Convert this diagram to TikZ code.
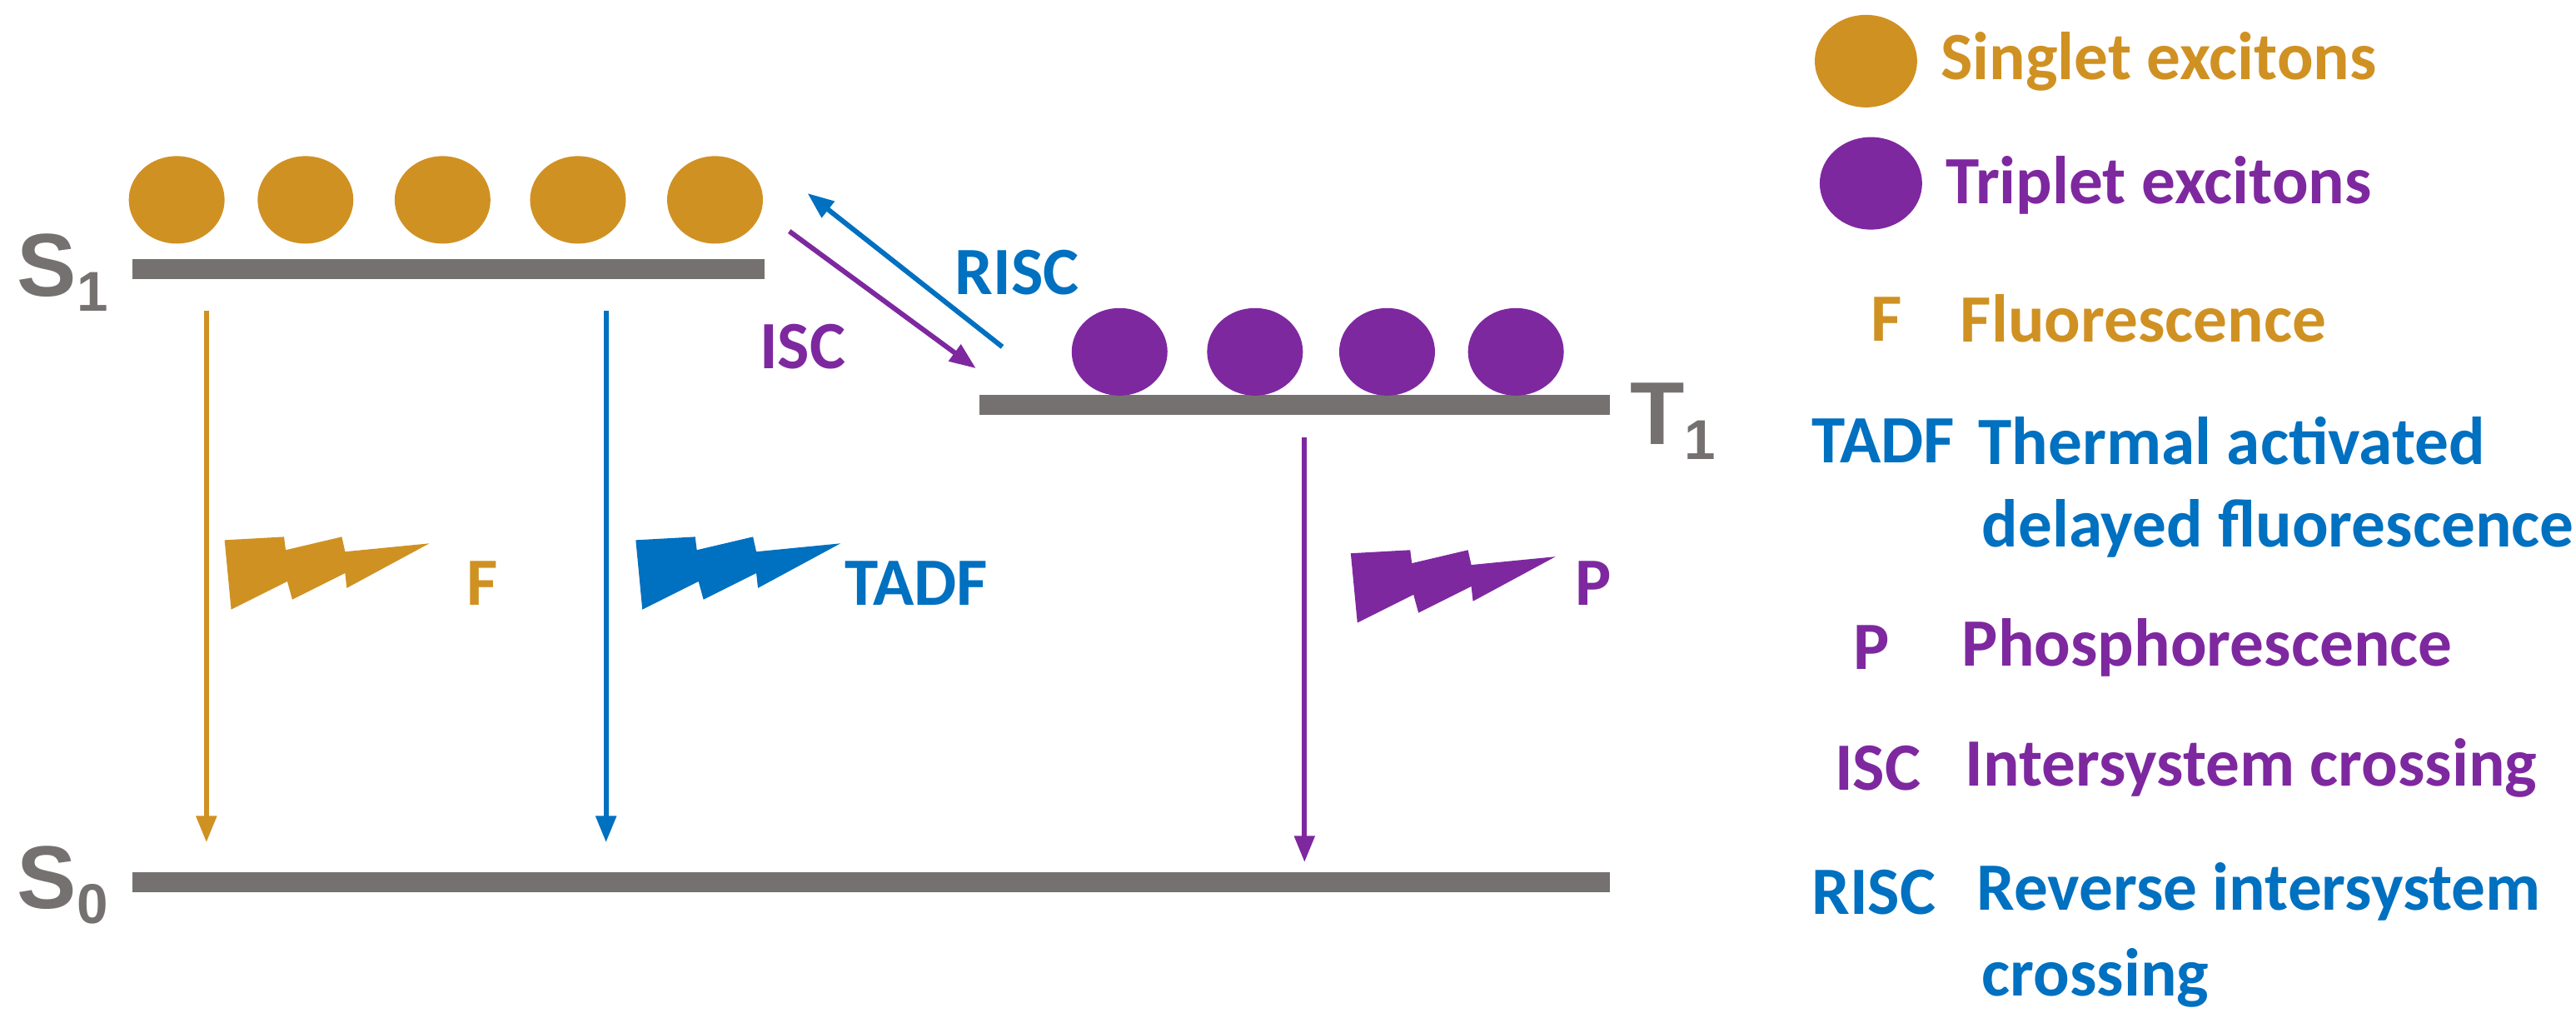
\documentclass[tikz,border=0pt]{standalone}
\usepackage{fontspec}
\setmainfont{Carlito}
\newfontfamily\lab{Liberation Sans}
\usetikzlibrary{arrows.meta,shapes.geometric}
\definecolor{cor}{RGB}{208,145,35}
\definecolor{cbl}{RGB}{0,112,192}
\definecolor{cpu}{RGB}{126,40,160}
\definecolor{cgr}{RGB}{118,113,113}
\newcommand{\lvlname}[2]{#1\raisebox{-9pt}{\fontsize{34}{36}\selectfont #2}}
\begin{document}
\begin{tikzpicture}[x=1pt,y=-1pt,
  lvl/.style={line width=12pt,draw=cgr},
  exc/.style={ellipse,minimum width=58pt,minimum height=53pt,inner sep=0,draw=none},
  sing/.style={exc,fill=cor},
  trip/.style={exc,fill=cpu},
  tr/.style={line width=3pt,-{Triangle[length=16pt,width=12pt]}},
  txt/.style={font=\fontsize{41}{43}\selectfont\bfseries,inner sep=0},
  lbl/.style={font=\lab\fontsize{54}{56}\selectfont\bfseries,text=cgr,inner sep=0},
  bolt/.pic={\fill (0,2)--(36,0)--(37,8)--(71,0)--(73,9)--(124,4)--(74,31)--(73,22)--(41,38)--(38,27)--(4,44)--cycle;}
]
\useasboundingbox (0,0) rectangle (1560,625);
% levels
\coordinate (s1a) at (80,163); \coordinate (s1b) at (463,163);
\coordinate (t1a) at (593,245); \coordinate (t1b) at (975,245);
\coordinate (s0a) at (80,534); \coordinate (s0b) at (975,534);
\draw[lvl] (s1a)--(s1b);
\draw[lvl] (t1a)--(t1b);
\draw[lvl] (s0a)--(s0b);
\node[lbl] (S1) at (38,165) {\lvlname{S}{1}};
\node[lbl] (T1) at (1013,255) {\lvlname{T}{1}};
\node[lbl] (S0) at (38,536) {\lvlname{S}{0}};
% excitons
\foreach \x [count=\i] in {107,185,268,350,433} \node[sing] (e\i) at (\x,121) {};
\foreach \x [count=\i] in {678,760,840,918} \node[trip] (t\i) at (\x,213) {};
% vertical transitions
\coordinate (fa) at (125,188); \coordinate (fb) at (125,510);
\coordinate (ta) at (367,188); \coordinate (tb) at (367,510);
\coordinate (pa) at (790,265); \coordinate (pb) at (790,522);
\draw[tr,cor] (fa)--(fb);
\draw[tr,cbl] (ta)--(tb);
\draw[tr,cpu] (pa)--(pb);
% ISC / RISC
\coordinate (ia) at (478,140); \coordinate (ib) at (591,223);
\coordinate (ra) at (607,210); \coordinate (rb) at (489,117);
\draw[tr,cpu] (ia)--(ib);
\draw[tr,cbl] (ra)--(rb);
\node[txt,text=cpu] (isc) at (486,210) {ISC};
\node[txt,text=cbl] (risc) at (616,165) {RISC};
% bolts
\pic[cor] at (136,325) {bolt};
\pic[cbl] at (385,325) {bolt};
\pic[cpu] at (818,333) {bolt};
\node[txt,text=cor] (fl) at (292,353) {F};
\node[txt,text=cbl] (tl) at (555,353) {TADF};
\node[txt,text=cpu] (pl) at (965,353) {P};
% legend
\node[sing,minimum width=62pt,minimum height=56pt] (ls) at (1130,37) {};
\node[trip,minimum width=62pt,minimum height=56pt] (lt) at (1133,111) {};
\node[txt,text=cor,anchor=west] at (1175,37) {Singlet excitons};
\node[txt,text=cpu,anchor=west] at (1178,112) {Triplet excitons};
\node[txt,text=cor,anchor=west] at (1133,193) {F};
\node[txt,text=cor,anchor=west] at (1187,193) {Fluorescence};
\node[txt,text=cbl,anchor=west] at (1097,267) {TADF};
\node[txt,text=cbl,anchor=west] at (1198,267) {Thermal activated};
\node[txt,text=cbl,anchor=west] at (1200,320) {delayed fluorescence};
\node[txt,text=cpu,anchor=west] at (1122,392) {P};
\node[txt,text=cpu,anchor=west] at (1188,392) {Phosphorescence};
\node[txt,text=cpu,anchor=west] at (1111,465) {ISC};
\node[txt,text=cpu,anchor=west] at (1190,465) {Intersystem crossing};
\node[txt,text=cbl,anchor=west] at (1097,540) {RISC};
\node[txt,text=cbl,anchor=west] at (1197,540) {Reverse intersystem};
\node[txt,text=cbl,anchor=west] at (1200,592) {crossing};
\end{tikzpicture}
\end{document}
